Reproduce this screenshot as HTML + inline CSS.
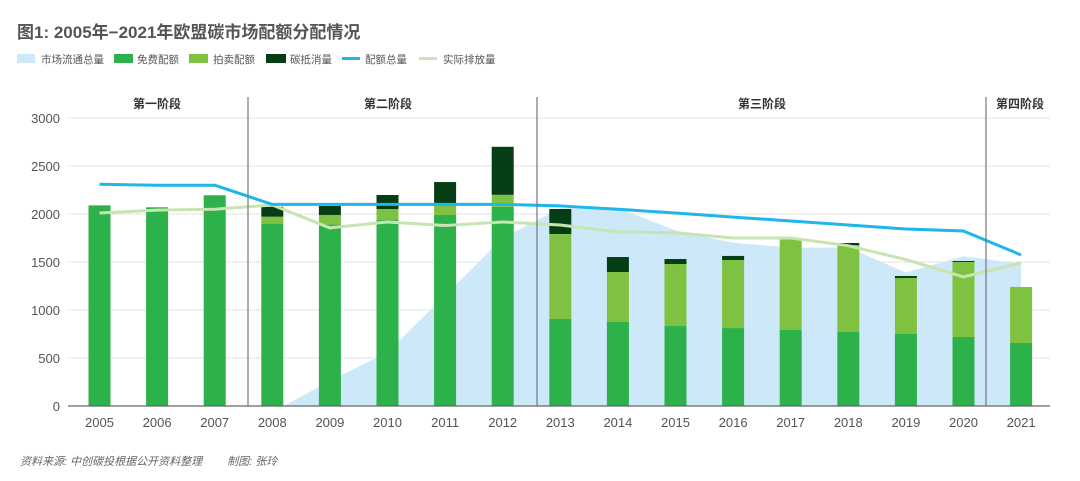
<!DOCTYPE html>
<html><head><meta charset="utf-8">
<style>
body{margin:0;background:#fff;width:1080px;height:481px;overflow:hidden;font-family:"Liberation Sans","Noto Sans CJK SC",sans-serif;}
svg{display:block}
</style></head>
<body>
<svg id="chart" width="1080" height="481" xmlns="http://www.w3.org/2000/svg" font-family="Liberation Sans, Noto Sans CJK SC, sans-serif">
<text x="17" y="38" font-size="17" font-weight="bold" fill="#555">图1: 2005年−2021年欧盟碳市场配额分配情况</text>
<g font-size="10.5" fill="#555">
  <g><rect x="17" y="54" width="18" height="9" fill="#cde8f8"/><text x="41" y="63">市场流通总量</text></g>
  <g><rect x="114" y="54" width="19" height="9" fill="#2db14b"/><text x="137" y="63">免费配额</text></g>
  <g><rect x="189" y="54" width="19" height="9" fill="#7fc241"/><text x="213" y="63">拍卖配额</text></g>
  <g><rect x="266" y="54" width="20" height="9" fill="#053d14"/><text x="290" y="63">碳抵消量</text></g>
  <g><rect x="342" y="57" width="18" height="3" fill="#1fb6ea"/><text x="365" y="63">配额总量</text></g>
  <g><rect x="419" y="57" width="18" height="3" fill="#c8e4b0"/><text x="443" y="63">实际排放量</text></g>
</g>
<g id="plot"></g>
<text x="20" y="465" font-size="11" font-style="italic" fill="#666">资料来源: 中创碳投根据公开资料整理　　 制图: 张玲</text>
</svg>
<script>
const years=['2005','2006','2007','2008','2009','2010','2011','2012','2013','2014','2015','2016','2017','2018','2019','2020','2021'];
const freeAlloc=[2090,2070,2195,1896,1890,1937,1990,2075,906,875,833,812,792,771,750,719,656];
const auctionAlloc=[0,0,0,76,100,115,125,125,886,521,646,709,948,906,583,781,584];
const offsetAlloc=[0,0,0,103,93,146,218,500,260,156,52,42,5,21,21,10,0];
const capTotal=[2310,2300,2300,2100,2100,2100,2100,2100,2084,2050,2010,1968,1927,1885,1844,1823,1573];
const emissions=[2010,2040,2050,2094,1855,1917,1880,1917,1885,1812,1805,1750,1750,1670,1525,1345,1490];
const supplyYears=[3.2,4,5,6,7,8,9,10,11,12,13,14,15,16];
const supplyValues=[0,260,560,1150,1750,2060,2060,1830,1700,1650,1650,1390,1560,1480];
const yTicks=[0,500,1000,1500,2000,2500,3000];
const phases=['第一阶段','第二阶段','第三阶段','第四阶段'];

const NS='http://www.w3.org/2000/svg';
const plot=document.getElementById('plot');
const x0=99.5, step=57.6, y0=406, k=0.096, bw=22;
const X=i=>x0+i*step;
const Y=v=>y0-v*k;
function mk(tag,attrs,parent){const e=document.createElementNS(NS,tag);for(const a in attrs)e.setAttribute(a,attrs[a]);(parent||plot).appendChild(e);return e;}

yTicks.forEach(t=>{
  if(t>0){const g=mk('line',{x1:68,x2:1050,y1:Y(t),y2:Y(t),stroke:'#c8c8c8','stroke-dasharray':'1,1'});
  
  }
  const l=mk('text',{x:60,y:Y(t)+5,'text-anchor':'end','font-size':13,fill:'#555'});
  
  
  l.textContent=t;
});
let d='M'+X(supplyYears[0])+','+Y(0);
supplyYears.forEach((s,i)=>{d+=' L'+X(s)+','+Y(supplyValues[i]);});
d+=' L'+X(supplyYears[supplyYears.length-1])+','+Y(0)+' Z';
const area=mk('path',{d:d,fill:'#cde8f8'});


years.forEach((yr,i)=>{
  const segs=[[freeAlloc[i],'#2db14b','bar-free-'+yr],[auctionAlloc[i],'#7fc241','bar-auction-'+yr],[offsetAlloc[i],'#053d14','bar-offset-'+yr]];
  let base=0;
  segs.forEach(s=>{
    if(s[0]>0){const r=mk('rect',{x:X(i)-bw/2,y:Y(base+s[0]),width:bw,height:s[0]*k,fill:s[1]});
    
    }
    base+=s[0];
  });
  const t=mk('text',{x:X(i),y:427,'text-anchor':'middle','font-size':13,fill:'#555'});
  
  
  t.textContent=yr;
});
function line(arr,color,name){
  const p=mk('polyline',{points:arr.map((v,i)=>X(i)+','+Y(v)).join(' '),fill:'none',stroke:color,'stroke-width':3,'stroke-linejoin':'round'});
  
  
}
line(emissions,'#c8e4b0','emissions-line');
line(capTotal,'#1fb6ea','cap-line');
const ax=mk('line',{x1:68,x2:1050,y1:y0,y2:y0,stroke:'#666','stroke-width':1.2});


[248,537,986].forEach(px=>{
  const l=mk('line',{x1:px,x2:px,y1:97,y2:y0,stroke:'#777','stroke-width':1.2});
  
  
});
[157,388,762,1020].forEach((px,i)=>{
  const t=mk('text',{x:px,y:108,'text-anchor':'middle','font-size':12,'font-weight':'bold',fill:'#333'});
  
  
  t.textContent=phases[i];
});
</script>
</body></html>
